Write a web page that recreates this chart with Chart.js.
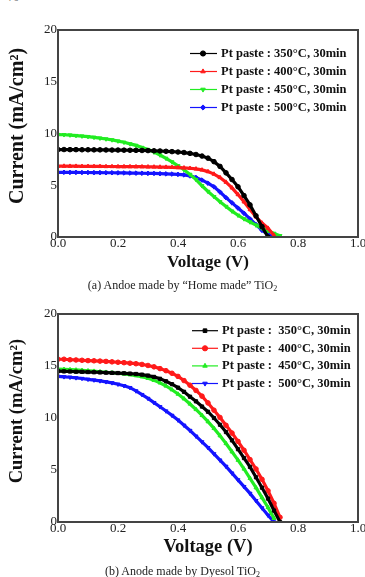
<!DOCTYPE html>
<html>
<head>
<meta charset="utf-8">
<script src="https://cdn.jsdelivr.net/npm/chart.js@4/dist/chart.umd.min.js"></script>
<style>
  body { margin: 0; background: #fff; }
  #page { position: relative; width: 365px; height: 577px; overflow: hidden; font-family: "Liberation Serif", serif; }
  .box { position: absolute; left: 0; width: 365px; }
  .cap { position: absolute; left: 0; width: 365px; text-align: center; font-size: 12px; line-height: 14px; color: #222; }
  .cap sub { font-size: 8px; line-height: 0; vertical-align: -2px; }
  .pageno { position: absolute; left: 8px; top: -9px; font-size: 11px; color: #666; }
</style>
</head>
<body>
<div id="page">
  <div class="pageno">70</div>
  <div class="box" style="top:0;height:290px"><canvas id="chartA"></canvas></div>
  <div class="cap" style="top:278px">(a) Andoe made by “Home made” TiO<sub>2</sub></div>
  <div class="box" style="top:290px;height:287px"><canvas id="chartB"></canvas></div>
  <div class="cap" style="top:564px">(b) Anode made by Dyesol TiO<sub>2</sub></div>
</div>
<script>
const SERIF = '"Liberation Serif", "Times New Roman", serif';

// shared voltage axis (V)
const voltage = [0, 0.02, 0.04, 0.06, 0.08, 0.10, 0.12, 0.14, 0.16, 0.18,
                 0.20, 0.22, 0.24, 0.26, 0.28, 0.30, 0.32, 0.34, 0.36, 0.38,
                 0.40, 0.42, 0.44, 0.46, 0.48, 0.50, 0.52, 0.54, 0.56, 0.58,
                 0.60, 0.62, 0.64, 0.66, 0.68, 0.70, 0.72, 0.74, 0.76];

// (a) "Home made" TiO2, current in mA/cm2
const homeMade350 = [8.45, 8.45, 8.44, 8.44, 8.43, 8.43, 8.42, 8.42, 8.41, 8.40,
                     8.40, 8.39, 8.38, 8.37, 8.36, 8.35, 8.33, 8.31, 8.28, 8.25,
                     8.21, 8.16, 8.08, 7.97, 7.82, 7.62, 7.28, 6.82, 6.20, 5.55,
                     4.85, 4.00, 3.10, 2.05, 1.00, 0.00, null, null, null];
const homeMade400 = [6.85, 6.85, 6.84, 6.84, 6.83, 6.83, 6.82, 6.82, 6.81, 6.81,
                     6.80, 6.80, 6.80, 6.79, 6.79, 6.78, 6.77, 6.76, 6.75, 6.73,
                     6.71, 6.68, 6.64, 6.58, 6.48, 6.32, 6.08, 5.75, 5.30, 4.75,
                     4.10, 3.40, 2.65, 1.95, 1.35, 0.85, 0.15, null, null];
const homeMade450 = [9.90, 9.88, 9.85, 9.80, 9.75, 9.70, 9.63, 9.55, 9.47, 9.38,
                     9.27, 9.15, 9.00, 8.85, 8.65, 8.45, 8.20, 7.92, 7.60, 7.25,
                     6.88, 6.50, 6.05, 5.55, 4.95, 4.40, 3.90, 3.40, 2.95, 2.50,
                     2.10, 1.75, 1.45, 1.15, 0.85, 0.60, 0.35, 0.12, null];
const homeMade500 = [6.25, 6.25, 6.24, 6.24, 6.23, 6.23, 6.22, 6.22, 6.21, 6.21,
                     6.20, 6.19, 6.18, 6.17, 6.16, 6.15, 6.14, 6.12, 6.10, 6.08,
                     6.05, 6.00, 5.90, 5.75, 5.50, 5.20, 4.85, 4.35, 3.80, 3.30,
                     2.80, 2.30, 1.75, 1.20, 0.65, 0.25, 0.00, null, null];

// (b) Dyesol TiO2
const dyesol350 = [14.50, 14.48, 14.47, 14.45, 14.44, 14.42, 14.40, 14.38, 14.36, 14.34,
                   14.32, 14.30, 14.27, 14.23, 14.17, 14.08, 13.95, 13.77, 13.53, 13.25,
                   12.92, 12.52, 12.05, 11.60, 11.10, 10.60, 10.00, 9.35, 8.65, 7.85,
                   7.00, 6.15, 5.30, 4.30, 3.30, 2.25, 1.10, 0.00, null];
const dyesol400 = [15.65, 15.65, 15.60, 15.58, 15.55, 15.52, 15.50, 15.47, 15.44, 15.40,
                   15.36, 15.32, 15.27, 15.22, 15.15, 15.05, 14.92, 14.75, 14.55, 14.30,
                   14.00, 13.60, 13.15, 12.65, 12.10, 11.45, 10.75, 10.05, 9.30, 8.55,
                   7.75, 6.90, 6.00, 5.10, 4.10, 3.00, 1.80, 0.45, null];
const dyesol450 = [14.70, 14.68, 14.65, 14.62, 14.58, 14.54, 14.50, 14.45, 14.40, 14.35,
                   14.30, 14.24, 14.17, 14.08, 13.97, 13.82, 13.62, 13.38, 13.08, 12.72,
                   12.30, 11.85, 11.35, 10.82, 10.25, 9.65, 9.00, 8.30, 7.55, 6.75,
                   5.95, 5.10, 4.20, 3.30, 2.35, 1.40, 0.35, null, null];
const dyesol500 = [14.00, 13.96, 13.92, 13.86, 13.80, 13.72, 13.65, 13.57, 13.48, 13.38,
                   13.25, 13.10, 12.92, 12.60, 12.25, 11.88, 11.48, 11.08, 10.67, 10.25,
                   9.80, 9.30, 8.80, 8.25, 7.70, 7.15, 6.55, 5.95, 5.35, 4.70,
                   4.05, 3.40, 2.75, 2.05, 1.35, 0.65, 0.00, null, null];

const labelsA = ['Pt paste : 350°C, 30min', 'Pt paste : 400°C, 30min',
                 'Pt paste : 450°C, 30min', 'Pt paste : 500°C, 30min'];
const labelsB = ['Pt paste :  350°C, 30min', 'Pt paste :  400°C, 30min',
                 'Pt paste :  450°C, 30min', 'Pt paste :  500°C, 30min'];

const xTicks = [0, 0.2, 0.4, 0.6, 0.8, 1.0];
const yTicks = [0, 5, 10, 15, 20];

const BLACK = '#000000', RED = '#ff1a1a', GREEN = '#22ec22', BLUE = '#1414ff';

function points(values) {
    return voltage.map((v, i) => ({ x: v, y: values[i] })).filter(p => p.y !== null);
}

function series(label, values, color, style, rotation) {
    return {
        label: label,
        data: points(values),
        borderColor: color,
        backgroundColor: color,
        pointBackgroundColor: color,
        pointBorderColor: color,
        borderWidth: 3.2,
        pointStyle: style,
        pointRotation: rotation || 0,
        pointRadius: 2.3,
        pointBorderWidth: 1,
        tension: 0,
    };
}

// box around the plot area
const framePlugin = {
    id: 'frame',
    afterDraw(chart) {
        const a = chart.chartArea, ctx = chart.ctx;
        ctx.save();
        ctx.strokeStyle = '#444';
        ctx.lineWidth = 2;
        ctx.strokeRect(a.left, a.top, a.right - a.left, a.bottom - a.top);
        ctx.restore();
    }
};

// legend with a short line and the marker on it
const lineLegend = {
    id: 'lineLegend',
    afterDraw(chart, args, o) {
        const ctx = chart.ctx;
        chart.data.datasets.forEach((ds, i) => {
            const y = o.y0 + i * o.dy;
            ctx.save();
            ctx.strokeStyle = ds.pointBorderColor;
            ctx.lineWidth = 1.2;
            ctx.beginPath();
            ctx.moveTo(o.x0, y);
            ctx.lineTo(o.x1, y);
            ctx.stroke();
            ctx.fillStyle = ds.pointBackgroundColor;
            ctx.lineWidth = 1;
            Chart.helpers.drawPoint(ctx, {
                pointStyle: ds.pointStyle, rotation: ds.pointRotation, radius: 2.6, borderWidth: 1
            }, o.xm, y);
            ctx.fillStyle = '#111';
            ctx.font = 'bold 12.5px ' + SERIF;
            ctx.textAlign = 'left';
            ctx.textBaseline = 'middle';
            ctx.fillText(o.labels[i], o.xt, y);
            ctx.restore();
        });
    }
};

function makeChart(id, datasets, cfg) {
    return new Chart(document.getElementById(id), {
        type: 'line',
        data: { datasets: datasets },
        plugins: [framePlugin, lineLegend],
        options: {
            responsive: true,
            maintainAspectRatio: false,
            animation: false,
            layout: { padding: cfg.padding },
            plugins: {
                legend: { display: false },
                tooltip: { enabled: false },
                lineLegend: cfg.legend,
            },
            scales: {
                x: {
                    type: 'linear',
                    min: 0,
                    max: 1,
                    afterBuildTicks: s => { s.ticks = xTicks.map(v => ({ value: v })); },
                    ticks: {
                        padding: 0,
                        color: '#222',
                        maxRotation: 0,
                        autoSkip: false,
                        font: { family: SERIF, size: 13, lineHeight: 1 },
                        callback: v => Number(v).toFixed(1),
                    },
                    grid: { display: false, drawTicks: false },
                    border: { display: false },
                    title: {
                        display: true,
                        text: 'Voltage (V)',
                        color: '#111',
                        padding: 0,
                        font: { family: SERIF, size: cfg.xTitleSize, weight: 'bold', lineHeight: 1 },
                    },
                    afterFit: s => { s.height = 34.5; s.paddingLeft = 0; s.paddingRight = 0; },
                },
                y: {
                    min: 0,
                    max: 20,
                    afterBuildTicks: s => { s.ticks = yTicks.map(v => ({ value: v })); },
                    ticks: {
                        padding: 1,
                        color: '#222',
                        font: { family: SERIF, size: 13, lineHeight: 1 },
                    },
                    grid: { display: false, drawTicks: false },
                    border: { display: false },
                    title: {
                        display: true,
                        text: '   Current (mA/cm²)',
                        color: '#111',
                        padding: 0,
                        font: { family: SERIF, size: cfg.yTitleSize, weight: 'bold', lineHeight: 1 },
                    },
                    afterFit: s => { s.width = 50; s.paddingTop = 0; s.paddingBottom = 0; },
                }
            }
        }
    });
}

makeChart('chartA', [
    series(labelsA[0], homeMade350, BLACK, 'circle'),
    series(labelsA[1], homeMade400, RED, 'triangle'),
    series(labelsA[2], homeMade450, GREEN, 'triangle', 180),
    series(labelsA[3], homeMade500, BLUE, 'rectRot'),
], {
    padding: { left: 8, top: 30, right: 7, bottom: 18.5 },
    xTitleSize: 17,
    yTitleSize: 20,
    legend: { x0: 190, x1: 217, xm: 203, xt: 221, y0: 53.5, dy: 18, labels: labelsA },
});

makeChart('chartB', [
    series(labelsB[0], dyesol350, BLACK, 'rect'),
    series(labelsB[1], dyesol400, RED, 'circle'),
    series(labelsB[2], dyesol450, GREEN, 'triangle'),
    series(labelsB[3], dyesol500, BLUE, 'triangle', 180),
], {
    padding: { left: 8, top: 24, right: 7, bottom: 20.5 },
    xTitleSize: 18.5,
    yTitleSize: 18.5,
    legend: { x0: 192, x1: 218, xm: 205, xt: 222, y0: 40.7, dy: 17.6, labels: labelsB },
});
</script>
</body>
</html>
